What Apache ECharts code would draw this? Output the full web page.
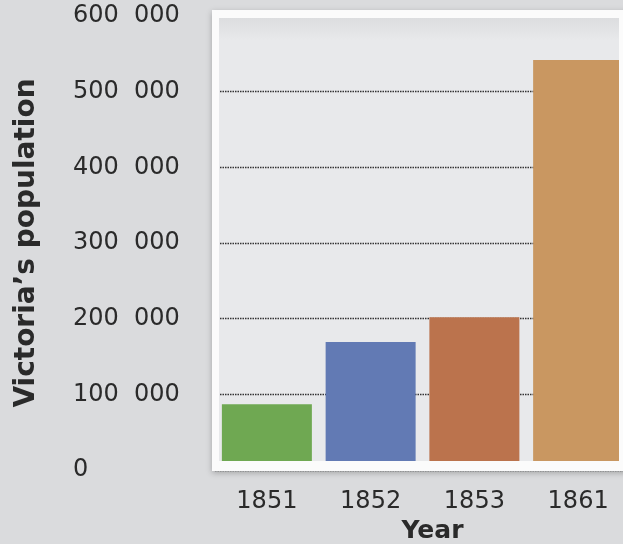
<!DOCTYPE html>
<html>
<head>
<meta charset="utf-8">
<script src="https://cdn.jsdelivr.net/npm/echarts@6/dist/echarts.min.js"></script>
<style>
  html, body { margin: 0; padding: 0; background: #dcdddf; }
  #chart { width: 623px; height: 544px; }
</style>
</head>
<body>
<div id="chart"></div>
<script>
// ---- data ----
const years = ['1851', '1852', '1853', '1861'];
const population = [87000, 169000, 202000, 542000];
const yTicks = [0, 100000, 200000, 300000, 400000, 500000, 600000];
const yAxisTitle = 'Victoria’s population';
const xAxisTitle = 'Year';

// ---- styles ----
const barColors = ['#6fa852', '#627ab4', '#bb734d', '#c99761'];
const font = 'DejaVu Sans';
const frameWhite = '#fbfbfb';

const chart = echarts.init(document.getElementById('chart'), null, { renderer: 'canvas' });

chart.setOption({
  backgroundColor: '#dadbdd',
  animation: false,
  grid: { left: 215, top: 16, width: 415, bottom: 74, outerBoundsMode: 'none', containLabel: false },
  graphic: [
    { type: 'rect', z: -10, shape: { x: 212, y: 10, width: 420, height: 461 },
      style: { fill: frameWhite, shadowBlur: 6, shadowColor: 'rgba(0,0,0,0.25)', shadowOffsetY: 2 } },
    { type: 'rect', z: -9, shape: { x: 219, y: 18, width: 400, height: 443 },
      style: { fill: new echarts.graphic.LinearGradient(0, 0, 0, 1, [
        { offset: 0, color: '#dcdddf' }, { offset: 0.05, color: '#e8e9eb' }, { offset: 1, color: '#e8e9eb' }]) } },
    { type: 'rect', z: 100, shape: { x: 212, y: 461, width: 420, height: 10 }, style: { fill: frameWhite } },
    { type: 'rect', z: 100, shape: { x: 619, y: 10, width: 10, height: 461 }, style: { fill: frameWhite } },
    { type: 'rect', z: 100, shape: { x: 212, y: 10, width: 7, height: 461 }, style: { fill: frameWhite } },
    { type: 'rect', z: 100, shape: { x: 212, y: 10, width: 420, height: 8 }, style: { fill: frameWhite } }
  ],
  xAxis: {
    type: 'category',
    data: years,
    name: xAxisTitle,
    nameLocation: 'middle',
    nameGap: 48,
    nameTextStyle: { fontFamily: font, fontSize: 25, fontWeight: 'bold', color: '#2a2a2a', padding: [0, 0, 0, 20] },
    axisLine: { show: false },
    axisTick: { show: false },
    axisLabel: { fontFamily: font, fontSize: 24, color: '#2a2a2a', margin: 20 }
  },
  yAxis: {
    type: 'value',
    min: yTicks[0],
    max: yTicks[yTicks.length - 1],
    interval: yTicks[1] - yTicks[0],
    name: yAxisTitle,
    nameLocation: 'middle',
    nameGap: 174,
    nameRotate: 90,
    nameTextStyle: { fontFamily: font, fontSize: 28, fontWeight: 'bold', color: '#2a2a2a' },
    axisLine: { show: false },
    axisTick: { show: false },
    axisLabel: {
      fontFamily: font, fontSize: 24, color: '#2a2a2a', align: 'left', margin: 142,
      formatter: function (v) {
        if (v === 0) return '0';
        return String(Math.round(v / 1000)) + '  000';
      }
    },
    splitLine: { show: true, lineStyle: { color: '#333333', width: 1.4, type: [1.5, 1] } }
  },
  series: [{
    type: 'bar',
    barWidth: 90,
    data: population.map(function (v, i) { return { value: v, itemStyle: { color: barColors[i] } }; })
  }]
});
</script>
</body>
</html>
